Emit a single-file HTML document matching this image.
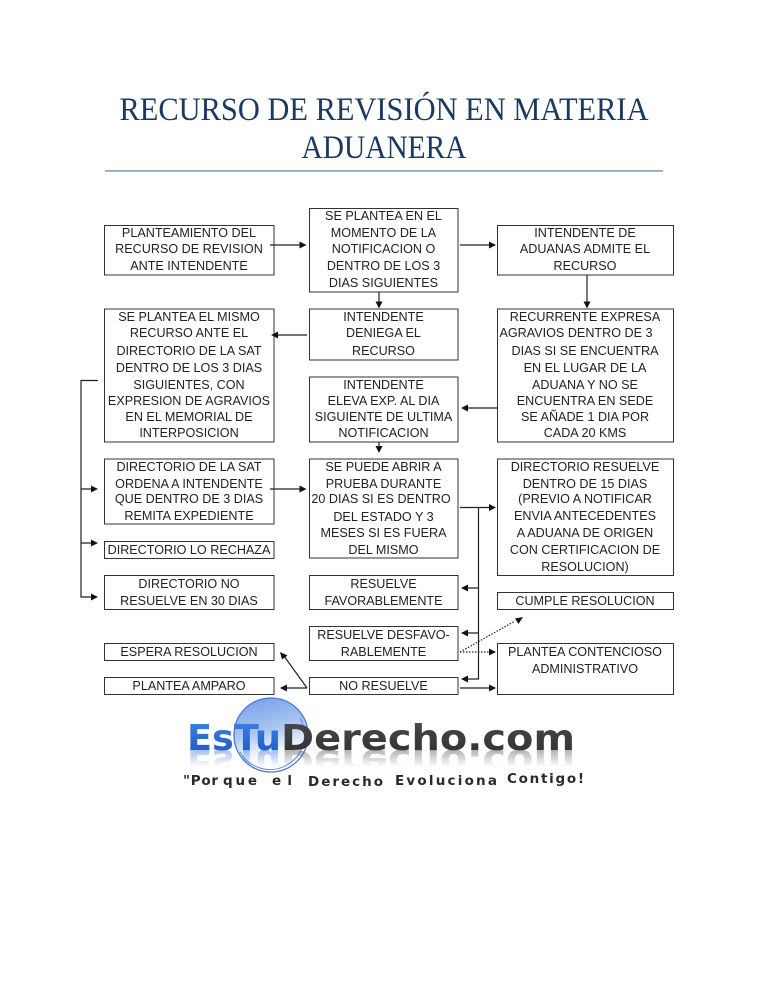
<!DOCTYPE html>
<html lang="es">
<head>
<meta charset="utf-8">
<title>Recurso de revisión en materia aduanera</title>
<style>
html,body{margin:0;padding:0;background:#fff;width:768px;height:994px;overflow:hidden}
svg{display:block}
.t text{font-family:"Liberation Sans",sans-serif;font-size:12.6px;fill:#222;text-anchor:middle}
.b rect{fill:#fff;stroke:#333;stroke-width:1}
.l path{fill:none;stroke:#222;stroke-width:1.2}
.h path{fill:#111}
</style>
</head>
<body>
<svg width="768" height="994" viewBox="0 0 768 994" xmlns="http://www.w3.org/2000/svg">
<defs>
<linearGradient id="g" x1="0" y1="0" x2="0.25" y2="1"><stop offset="0" stop-color="#6f9cea"/><stop offset=".5" stop-color="#a9c5f2"/><stop offset=".8" stop-color="#f2f6fd"/><stop offset="1" stop-color="#fff"/></linearGradient>
<linearGradient id="blue" x1="0" y1="0" x2="0" y2="1"><stop offset="0" stop-color="#3f83e6"/><stop offset="1" stop-color="#1b55c4"/></linearGradient>
<linearGradient id="grey" x1="0" y1="0" x2="0" y2="1"><stop offset="0" stop-color="#4a4a4a"/><stop offset="1" stop-color="#2f2f2f"/></linearGradient>
<linearGradient id="rb" gradientUnits="userSpaceOnUse" x1="0" y1="750" x2="0" y2="733"><stop offset="0" stop-color="#3f78d8" stop-opacity=".45"/><stop offset="1" stop-color="#3f78d8" stop-opacity="0"/></linearGradient>
<linearGradient id="rg" gradientUnits="userSpaceOnUse" x1="0" y1="750" x2="0" y2="733"><stop offset="0" stop-color="#555" stop-opacity=".45"/><stop offset="1" stop-color="#555" stop-opacity="0"/></linearGradient>
</defs>
<g font-family="'Liberation Serif',serif" font-size="33" fill="#1c3a60" text-anchor="middle">
<text x="384" y="120" textLength="529" lengthAdjust="spacingAndGlyphs">RECURSO DE REVISIÓN EN MATERIA</text>
<text x="384" y="158" textLength="165" lengthAdjust="spacingAndGlyphs">ADUANERA</text>
</g>
<rect x="105" y="170" width="558" height="1.8" fill="#8eaac8"/>
<g class="b">
<rect x="104.5" y="225.500" width="169.500" height="49.500"/>
<rect x="104.500" y="309" width="169.500" height="133"/>
<rect x="104.500" y="459" width="169.500" height="65"/>
<rect x="104.500" y="541.500" width="169.500" height="17"/>
<rect x="104.500" y="575.500" width="169.500" height="34"/>
<rect x="104.500" y="643.500" width="169.500" height="17"/>
<rect x="104.500" y="677.500" width="169.500" height="17"/>
<rect x="309.500" y="208.500" width="148.500" height="83.500"/>
<rect x="309.500" y="309" width="148.500" height="51"/>
<rect x="309.500" y="377" width="148.500" height="65"/>
<rect x="309.500" y="459" width="148.500" height="99"/>
<rect x="309.500" y="575.500" width="148.500" height="34"/>
<rect x="309.500" y="626.500" width="148.500" height="34"/>
<rect x="309.500" y="677.500" width="148.500" height="17"/>
<rect x="497.500" y="225.500" width="176" height="49.500"/>
<rect x="497.500" y="309" width="176" height="133"/>
<rect x="497.500" y="459" width="176" height="116.500"/>
<rect x="497.500" y="592.500" width="176" height="17"/>
<rect x="497.500" y="643.500" width="176" height="51"/>
</g>
<g class="t">
<text x="189" y="237">PLANTEAMIENTO DEL</text><text x="189" y="253">RECURSO DE REVISION</text><text x="189" y="270">ANTE INTENDENTE</text>
<text x="189" y="321">SE PLANTEA EL MISMO</text><text x="189" y="337">RECURSO ANTE EL</text><text x="189" y="355">DIRECTORIO DE LA SAT</text><text x="189" y="372">DENTRO DE LOS 3 DIAS</text><text x="189" y="389">SIGUIENTES, CON</text><text x="189" y="405">EXPRESION DE AGRAVIOS</text><text x="189" y="421">EN EL MEMORIAL DE</text><text x="189" y="437">INTERPOSICION</text>
<text x="189" y="471">DIRECTORIO DE LA SAT</text><text x="189" y="488">ORDENA A INTENDENTE</text><text x="189" y="503">QUE DENTRO DE 3 DIAS</text><text x="189" y="520">REMITA EXPEDIENTE</text>
<text x="189" y="554">DIRECTORIO LO RECHAZA</text>
<text x="189" y="588">DIRECTORIO NO</text><text x="189" y="605">RESUELVE EN 30 DIAS</text>
<text x="189" y="656">ESPERA RESOLUCION</text>
<text x="189" y="690">PLANTEA AMPARO</text>
<text x="383.500" y="220">SE PLANTEA EN EL</text><text x="383.500" y="237">MOMENTO DE LA</text><text x="383.500" y="253">NOTIFICACION O</text><text x="383.500" y="270">DENTRO DE LOS 3</text><text x="383.500" y="287">DIAS SIGUIENTES</text>
<text x="383.500" y="321">INTENDENTE</text><text x="383.500" y="337">DENIEGA EL</text><text x="383.500" y="355">RECURSO</text>
<text x="383.500" y="389">INTENDENTE</text><text x="383.500" y="405">ELEVA EXP. AL DIA</text><text x="383.500" y="421">SIGUIENTE DE ULTIMA</text><text x="383.500" y="437">NOTIFICACION</text>
<text x="383.500" y="471">SE PUEDE ABRIR A</text><text x="383.500" y="488">PRUEBA DURANTE</text><text x="381" y="503">20 DIAS SI ES DENTRO</text><text x="383.500" y="521">DEL ESTADO Y  3</text><text x="383.500" y="537">MESES SI ES FUERA</text><text x="383.500" y="554">DEL MISMO</text>
<text x="383.500" y="588">RESUELVE</text><text x="383.500" y="605">FAVORABLEMENTE</text>
<text x="383.500" y="639">RESUELVE DESFAVO-</text><text x="383.500" y="656">RABLEMENTE</text>
<text x="383.500" y="690">NO RESUELVE</text>
<text x="585" y="237">INTENDENTE DE</text><text x="585" y="253">ADUANAS ADMITE EL</text><text x="585" y="270">RECURSO</text>
<text x="585" y="321">RECURRENTE EXPRESA</text><text x="576" y="337">AGRAVIOS DENTRO DE 3</text><text x="585" y="355">DIAS SI SE ENCUENTRA</text><text x="585" y="372">EN EL LUGAR DE LA</text><text x="585" y="389">ADUANA Y NO SE</text><text x="585" y="405">ENCUENTRA EN SEDE</text><text x="585" y="421">SE AÑADE  1 DIA POR</text><text x="585" y="437">CADA 20 KMS</text>
<text x="585" y="471">DIRECTORIO RESUELVE</text><text x="585" y="488">DENTRO DE 15 DIAS</text><text x="585" y="503">(PREVIO A NOTIFICAR</text><text x="585" y="520">ENVIA ANTECEDENTES</text><text x="585" y="537">A ADUANA DE ORIGEN</text><text x="585" y="554">CON CERTIFICACION DE</text><text x="585" y="571">RESOLUCION)</text>
<text x="585" y="605">CUMPLE RESOLUCION</text>
<text x="585" y="656">PLANTEA CONTENCIOSO</text><text x="585" y="673">ADMINISTRATIVO</text>
</g>
<g class="l">
<path d="M98 380.500H81V597H92M81 489H92M81 543H92"/>
<path d="M270 245H300M460 245H490M379 292V302M587 275V302M307 335H277M497 408H467M379 442V446M270 489H300M460 507.500H490M478.500 507.500V679H467M478.500 588H467M478.500 633H467M460 688H490M307 688H286M307 688L284 656"/>
<path d="M460 652H490M460 652L515 621" stroke-dasharray="1.500 1.500" stroke-width="1"/>
</g>
<g class="h">
<path d="M98 489l-7-3.500v7zM98 543l-7-3.500v7zM98 597l-7-3.500v7z"/>
<path d="M306.500 245l-7-3.500v7zM496 245l-7-3.500v7zM379 308.500l-3.500-7h7zM587 308.500l-3.500-7h7zM271 335l7-3.500v7zM461 408l7-3.500v7zM379 453l-3.500-7h7zM306.500 489l-7-3.500v7zM496 507.500l-7-3.500v7zM461 588l7-3.500v7zM461 633l7-3.500v7zM461 679l7-3.500v7zM496 688l-7-3.500v7zM280 688l7-3.500v7zM280 652l2 7.500 5.500-4zM496 652l-7-3.500v7zM523 617l-8 1.500 3.500 5.500z"/>
</g>
<circle cx="271" cy="735" r="37" fill="url(#g)" stroke="#4a7ad8" stroke-width="1.300"/>
<path d="M240 752A34 34 0 0 0 300 718" fill="none" stroke="#5c8ae0" stroke-width="1"/>
<g font-family="'DejaVu Sans',sans-serif" font-weight="700" font-size="36">
<text x="187" y="750" fill="url(#blue)" textLength="94" lengthAdjust="spacingAndGlyphs">EsTu</text>
<text x="281" y="750" fill="url(#grey)" textLength="294" lengthAdjust="spacingAndGlyphs">Derecho.com</text>
<g transform="translate(0 1500) scale(1 -1)">
<text x="187" y="750" fill="url(#rb)" textLength="94" lengthAdjust="spacingAndGlyphs">EsTu</text>
<text x="281" y="750" fill="url(#rg)" textLength="294" lengthAdjust="spacingAndGlyphs">Derecho.com</text>
</g>
</g>
<g font-family="'DejaVu Sans',sans-serif" font-weight="700" font-size="13.500" fill="#2a2a2a">
<text x="183" y="785" textLength="35" lengthAdjust="spacing">"Por</text>
<text x="223" y="785" textLength="34" lengthAdjust="spacing">que</text>
<text x="272" y="785" textLength="20" lengthAdjust="spacing">el</text>
<text x="308" y="786" textLength="75" lengthAdjust="spacing">Derecho</text>
<text x="395" y="785" textLength="102" lengthAdjust="spacing">Evoluciona</text>
<text x="507" y="783" textLength="77" lengthAdjust="spacing">Contigo!</text>
</g>
</svg>
</body>
</html>
